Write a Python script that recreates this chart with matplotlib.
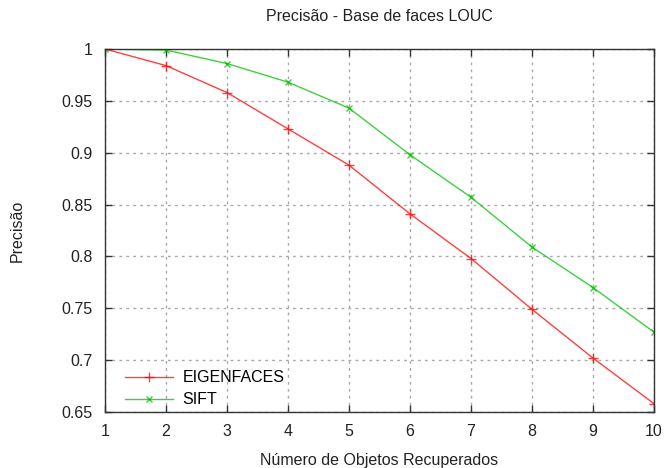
import matplotlib
matplotlib.use("Agg")
import matplotlib.pyplot as plt

x = [1, 2, 3, 4, 5, 6, 7, 8, 9, 10]
eigenfaces = [1.0, 0.984, 0.958, 0.923, 0.888, 0.841, 0.798, 0.749, 0.702, 0.658]
sift = [1.0, 0.999, 0.986, 0.968, 0.943, 0.898, 0.857, 0.809, 0.770, 0.727]
yticks = [0.65, 0.7, 0.75, 0.8, 0.85, 0.9, 0.95, 1.0]
ytick_labels = ["0.65", "0.7", "0.75", "0.8", "0.85", "0.9", "0.95", "1"]

plt.rcParams['font.family'] = ['Liberation Sans', 'DejaVu Sans']
fs = 11.5
fig = plt.figure(figsize=(6.66, 4.68), dpi=100)
ax = fig.add_axes([105/666, 1-412/468, (654-105)/666, (412-49)/468])

ax.plot(x, eigenfaces, color='#ff0000', lw=1, marker='+', ms=6.5, mew=1, label='EIGENFACES', alpha=0.75)
ax.plot(x, sift, color='#00c000', lw=1, marker='x', ms=5, mew=1, label='SIFT', alpha=0.75)

ax.set_xlim(1, 10)
ax.set_ylim(0.65, 1.0)
ax.set_xticks(x)
ax.set_xticklabels([str(v) for v in x])
ax.set_yticks(yticks)
ax.set_yticklabels(ytick_labels)
ax.tick_params(direction='in', top=True, right=True, length=5, width=1, labelsize=fs,
               colors='#333333', labelcolor='#222222', pad=9)
ax.grid(True, linestyle=(0, (2, 3)), color='#aaaaaa', lw=1)
for s in ax.spines.values():
    s.set_color('#333333')
    s.set_linewidth(1)

ax.set_title('Precisão - Base de faces LOUC', fontsize=fs, color='#222222', pad=20)
ax.set_xlabel('Número de Objetos Recuperados', fontsize=fs, color='#222222', labelpad=10)
ax.set_ylabel('Precisão', fontsize=fs, color='#222222', labelpad=26)

leg = ax.legend(loc='lower left', frameon=False, fontsize=fs, handlelength=3.0,
                borderaxespad=0.0, handletextpad=0.6, labelspacing=0.45,
                bbox_to_anchor=(0.025, -0.005))
fig.savefig('out.png', dpi=100)
